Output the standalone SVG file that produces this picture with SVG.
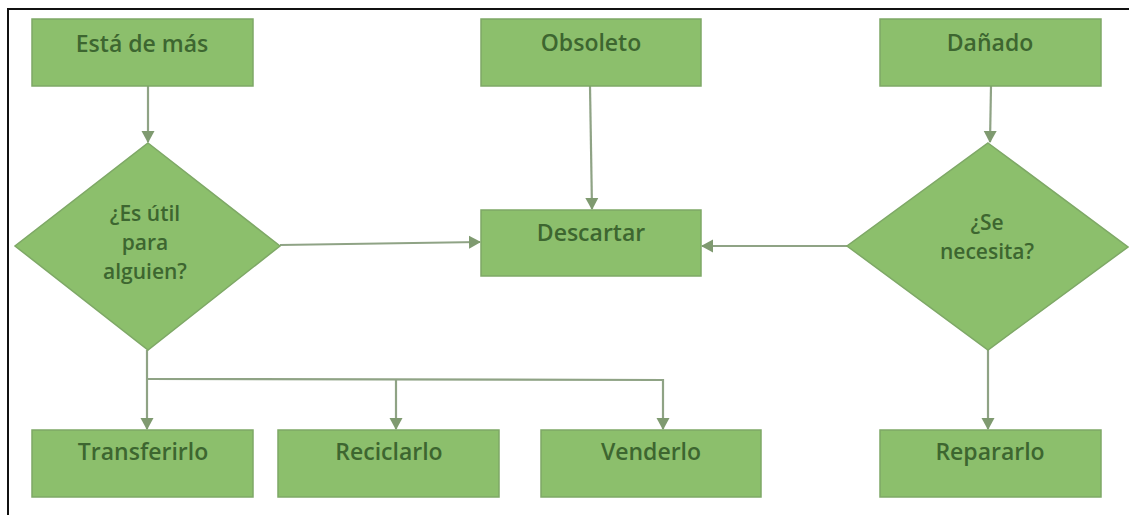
<svg xmlns="http://www.w3.org/2000/svg" width="1129" height="515" viewBox="0 0 1129 515">
<style>
.box{fill:#8cbf6c;stroke:#7ea866;stroke-width:1.5}
.lbl{font-family:"Open Sans","DejaVu Sans",sans-serif;font-size:23px;font-weight:600;fill:#3d6630;text-anchor:middle}
.dl{font-size:21px}
.con{fill:none;stroke:#8fa385;stroke-width:2.2}
</style>
<defs>
<marker id="ah" markerWidth="14" markerHeight="14" refX="11" refY="7" orient="auto" markerUnits="userSpaceOnUse">
<path d="M0,0.5 L12,7 L0,13.5 Z" fill="#7f9a70"/>
</marker>
</defs>
<rect x="0" y="0" width="1129" height="515" fill="#ffffff"/>
<path d="M8,515 L8,9 L1129,9" fill="none" stroke="#111" stroke-width="2"/>
<g id="connectors">
<path class="con" d="M148,86 L148,142" marker-end="url(#ah)"/>
<path class="con" d="M590,86 L592,209" marker-end="url(#ah)"/>
<path class="con" d="M280,245 L480,242" marker-end="url(#ah)"/>
<path class="con" d="M847,246 L702,246" marker-end="url(#ah)"/>
<path class="con" d="M991,86 L990,142" marker-end="url(#ah)"/>
<path class="con" d="M147,350 L147,429" marker-end="url(#ah)"/>
<path class="con" d="M147,379 L663,380 L663,429" marker-end="url(#ah)"/>
<path class="con" d="M396,379 L396,429" marker-end="url(#ah)"/>
<path class="con" d="M988,350 L988,429" marker-end="url(#ah)"/>
</g>
<g id="esta-de-mas"><rect class="box" x="32" y="19" width="221" height="67"/><text class="lbl" x="142" y="52">Está de más</text></g>
<g id="obsoleto"><rect class="box" x="481" y="19" width="220" height="67"/><text class="lbl" x="591" y="51">Obsoleto</text></g>
<g id="danado"><rect class="box" x="880" y="19" width="221" height="67"/><text class="lbl" x="990" y="51">Dañado</text></g>
<g id="es-util"><polygon class="box" points="148,143 280,246 148,350 15,246"/>
<text class="lbl dl" x="145" y="221">¿Es útil</text><text class="lbl dl" x="145" y="250">para</text><text class="lbl dl" x="145" y="279">alguien?</text></g>
<g id="descartar"><rect class="box" x="481" y="210" width="220" height="66"/><text class="lbl" x="591" y="241">Descartar</text></g>
<g id="se-necesita"><polygon class="box" points="988,143 1128,247 988,350 847,246"/>
<text class="lbl dl" x="987" y="230">¿Se</text><text class="lbl dl" x="987" y="259">necesita?</text></g>
<g id="transferirlo"><rect class="box" x="32" y="430" width="221" height="67"/><text class="lbl" x="143" y="460">Transferirlo</text></g>
<g id="reciclarlo"><rect class="box" x="278" y="430" width="221" height="67"/><text class="lbl" x="389" y="460">Reciclarlo</text></g>
<g id="venderlo"><rect class="box" x="541" y="430" width="220" height="67"/><text class="lbl" x="651" y="460">Venderlo</text></g>
<g id="repararlo"><rect class="box" x="880" y="430" width="221" height="67"/><text class="lbl" x="990" y="460">Repararlo</text></g>
</svg>
